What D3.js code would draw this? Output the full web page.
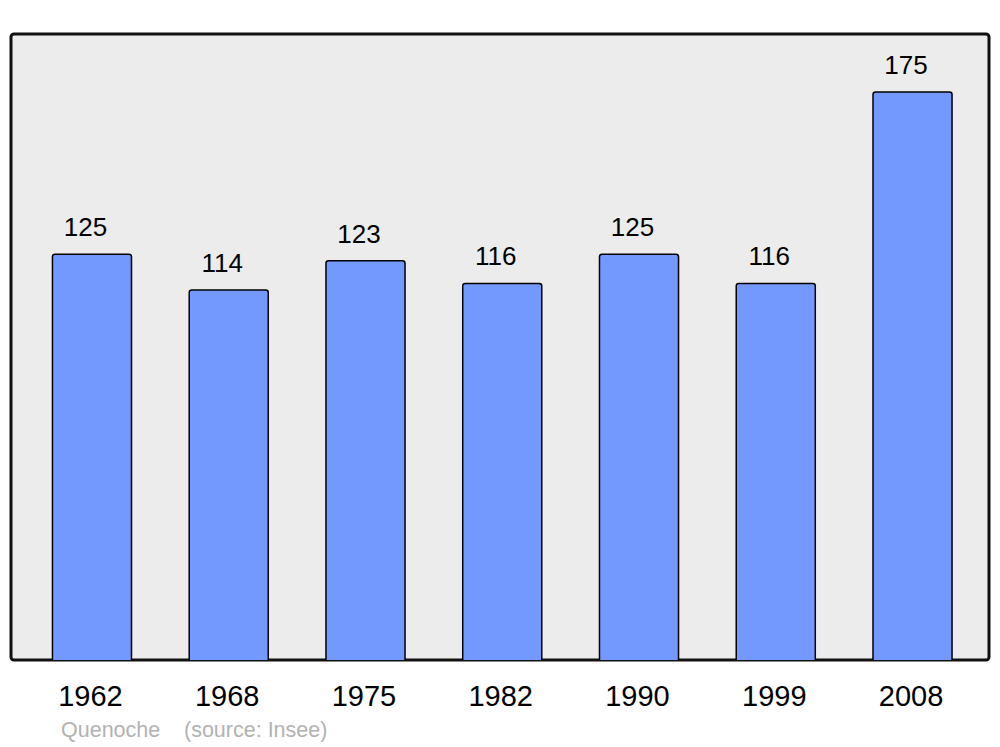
<!DOCTYPE html>
<html><head><meta charset="utf-8">
<script src="https://cdn.jsdelivr.net/npm/d3@7"></script>
<style>body{margin:0;background:#fff}svg{display:block}text{font-family:"Liberation Sans",Arial,sans-serif}</style>
</head><body>
<script>
const years = ["1962","1968","1975","1982","1990","1999","2008"];
const population = [125,114,123,116,125,116,175];
const placeName = "Quenoche";
const sourceText = "(source: Insee)";

const W=1000,H=747;
const svg=d3.select("body").append("svg").attr("width",W).attr("height",H);
const frame={x0:11,y0:34,x1:989,y1:660};

svg.append("rect").attr("x",frame.x0).attr("y",frame.y0)
  .attr("width",frame.x1-frame.x0).attr("height",frame.y1-frame.y0)
  .attr("rx",3).attr("fill","#ececec").attr("stroke","#111").attr("stroke-width",3);

const x=d3.scaleBand().domain(years).range([23.6,980.9]).paddingInner(0.422).paddingOuter(0.211);
const y=d3.scaleLinear().domain([0,175]).range([frame.y1,92]);

const bw=x.bandwidth(), r=2.5;
function barPath(d,i){
  const x0=x(d), x1=x0+bw, t=y(population[i]), b=frame.y1;
  return `M${x0},${b}V${t+r}Q${x0},${t} ${x0+r},${t}H${x1-r}Q${x1},${t} ${x1},${t+r}V${b}`;
}
svg.selectAll("path.bar").data(years).enter().append("path").attr("class","bar")
  .attr("d",barPath).attr("fill","#7399ff").attr("stroke","#000").attr("stroke-width",1.5);

svg.selectAll("text.val").data(years).enter().append("text").attr("class","val")
  .attr("x",d=>x(d)+bw/2-6.5).attr("y",(d,i)=>y(population[i])-18)
  .attr("text-anchor","middle").attr("font-size",26).attr("fill","#000")
  .text((d,i)=>population[i]);

svg.selectAll("text.year").data(years).enter().append("text").attr("class","year")
  .attr("x",d=>x(d)+bw/2-1.5).attr("y",706)
  .attr("text-anchor","middle").attr("font-size",29).attr("fill","#000")
  .text(d=>d);

svg.append("text").attr("x",61).attr("y",737).attr("font-size",21.5).attr("fill","#b3b3b3").text(placeName);
svg.append("text").attr("x",184).attr("y",737).attr("font-size",21.5).attr("fill","#b3b3b3").text(sourceText);
</script>
</body></html>
